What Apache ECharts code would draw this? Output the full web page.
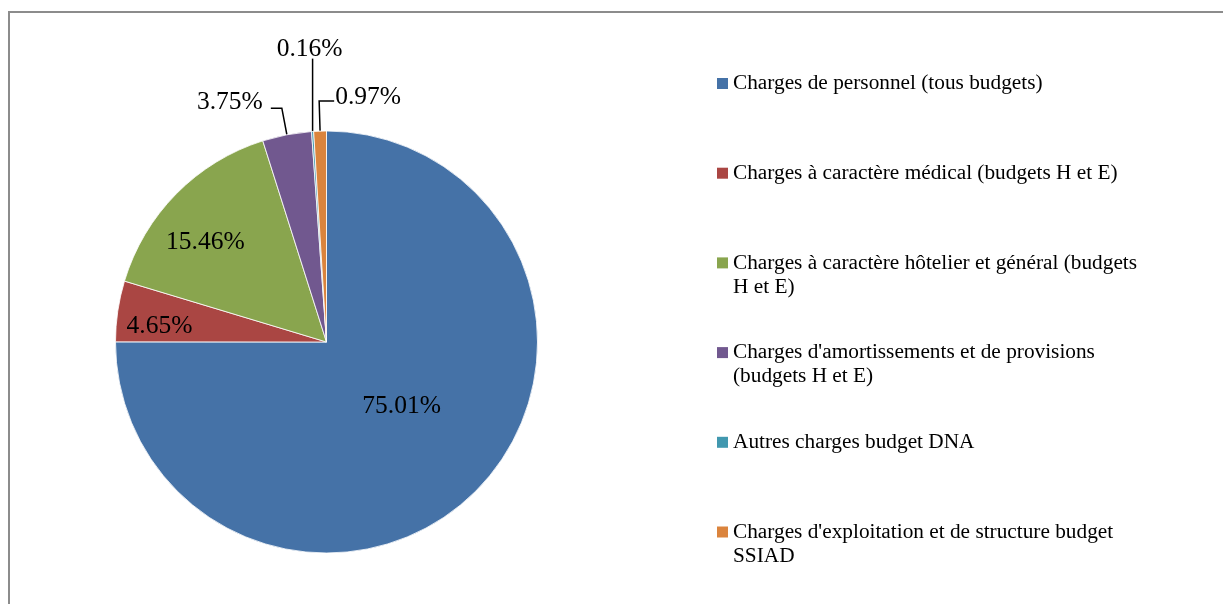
<!DOCTYPE html>
<html>
<head>
<meta charset="utf-8">
<style>
  html, body { margin: 0; padding: 0; background: #fff; }
  #chart { width: 1223px; height: 604px; }
</style>
<script src="https://cdn.jsdelivr.net/npm/echarts@6/dist/echarts.min.js"></script>
</head>
<body>
<div id="chart"></div>
<script>
// ---- data ----
const categories = [
  "Charges de personnel (tous budgets)",
  "Charges à caractère médical (budgets H et E)",
  "Charges à caractère hôtelier et général (budgets H et E)",
  "Charges d'amortissements et de provisions (budgets H et E)",
  "Autres charges budget DNA",
  "Charges d'exploitation et de structure budget SSIAD"
];
const values = [75.01, 4.65, 15.46, 3.75, 0.16, 0.97];
const legendLabels = [
  "Charges de personnel (tous budgets)",
  "Charges à caractère médical (budgets H et E)",
  "Charges à caractère hôtelier et général (budgets\nH et E)",
  "Charges d'amortissements et de provisions\n(budgets H et E)",
  "Autres charges budget DNA",
  "Charges d'exploitation et de structure budget\nSSIAD"
];
const colors = ['#4572A7', '#AA4643', '#89A54E', '#71588F', '#4198AF', '#DB843D'];

// ---- style ----
const FONT = 'Liberation Serif';
const CX = 326.5, CY = 342, R = 211;
const insideScale = [[0.98, 0.84], [1.556, 1.0], [1.568, 1.31]];   // placement of inside labels
const labelLines = [null, null, null, [27, 11], [73, 0], [30, 15]];
const SLOT = 89.7, LH = 24;

const chart = echarts.init(document.getElementById('chart'));

const pieData = categories.map((name, i) => {
  const item = { name: name, value: values[i], itemStyle: { color: colors[i] } };
  if (labelLines[i]) {
    item.label = { position: 'outside' };
    item.labelLine = { show: true, length: labelLines[i][0], length2: labelLines[i][1] };
  } else {
    item.label = { position: 'inside' };
    item.labelLine = { show: false };
  }
  return item;
});

function lineCount(i) { return legendLabels[i].split('\n').length; }

const legendData = categories.map((name, i) => {
  const n = 2 * lineCount(i) - 1;           // blank lines above keep the first line on the marker
  const pad = (SLOT - n * LH) / 2;
  return { name: name, textStyle: { padding: [pad, 0, pad, 0], backgroundColor: 'rgba(0,0,0,0)' } };
});

function labelLayout(p) {
  const i = p.dataIndex;
  if (i < 3) {
    const k = insideScale[i];
    const lx = p.labelRect.x + p.labelRect.width / 2;
    const ly = p.labelRect.y + p.labelRect.height / 2;
    return { x: CX + (lx - CX) * k[0], y: CY + (ly - CY) * k[1], align: 'center', verticalAlign: 'middle' };
  }
  const pts = p.labelLinePoints;
  if (!pts) return {};
  if (i === 3) {
    return { x: pts[2][0] - 8, y: pts[2][1] - 6, align: 'right', verticalAlign: 'middle', labelLinePoints: pts };
  }
  if (i === 4) {
    const p1 = [pts[0][0], pts[1][1]];
    return { x: p1[0] - 3, y: p1[1] + 4, align: 'center', verticalAlign: 'bottom', labelLinePoints: [pts[0], p1, p1] };
  }
  const len2 = Math.abs(pts[2][0] - pts[1][0]);
  const p2 = [pts[1][0] + len2, pts[1][1]];
  return { x: p2[0] + 1, y: p2[1] - 4, align: 'left', verticalAlign: 'middle', labelLinePoints: [pts[0], pts[1], p2] };
}

chart.setOption({
  animation: false,
  backgroundColor: '#fff',
  graphic: [{
    type: 'rect',
    shape: { x: 9, y: 12, width: 1400, height: 800 },
    style: { fill: 'none', stroke: '#8c8c8c', lineWidth: 2 },
    silent: true
  }],
  legend: {
    orient: 'vertical',
    left: 717,
    top: 38.65,
    padding: 0,
    itemGap: 0,
    itemWidth: 11,
    itemHeight: 11,
    icon: 'rect',
    selectedMode: false,
    itemStyle: { borderWidth: 0 },
    data: legendData,
    formatter: function (name) {
      const i = categories.indexOf(name);
      return '\n'.repeat(lineCount(i) - 1) + legendLabels[i];
    },
    textStyle: { fontFamily: FONT, fontSize: 21.3, lineHeight: LH, color: '#000' }
  },
  series: [{
    type: 'pie',
    center: [CX, CY],
    radius: [0, R],
    startAngle: 90,
    clockwise: true,
    avoidLabelOverlap: false,
    itemStyle: { borderColor: '#ffffff', borderWidth: 0.8 },
    label: {
      show: true,
      fontFamily: FONT,
      fontSize: 25.5,
      color: '#000',
      distanceToLabelLine: 8,
      formatter: function (p) { return p.value.toFixed(2) + '%'; }
    },
    labelLine: {
      lineStyle: { color: '#000', width: 1.5 }
    },
    labelLayout: labelLayout,
    emphasis: { disabled: true },
    data: pieData
  }]
});
</script>
</body>
</html>
